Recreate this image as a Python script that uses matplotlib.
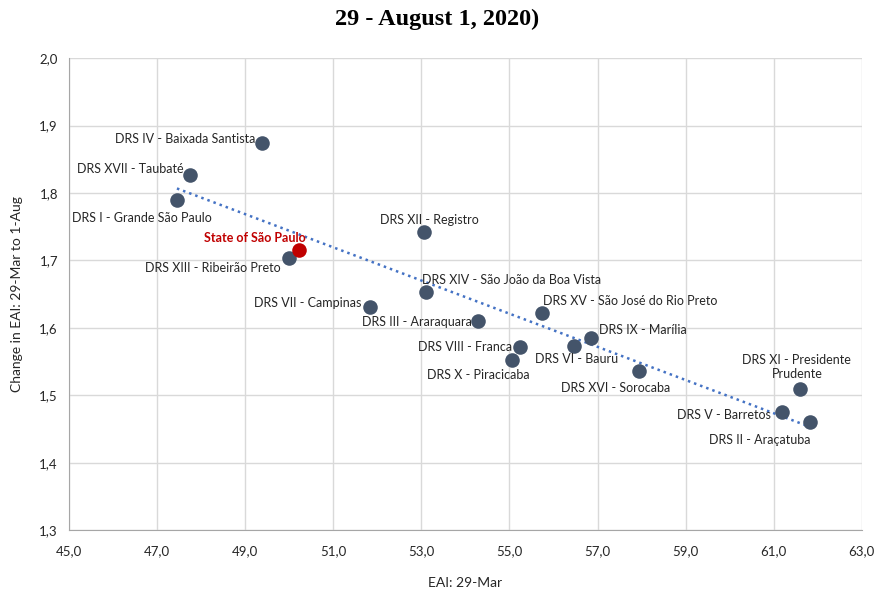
import numpy as np
import matplotlib.pyplot as plt

# EAI on 29-Mar vs. change in EAI to 1-Aug, by health region (DRS)
regions = [
    "DRS IV - Baixada Santista", "DRS XVII - Taubaté", "DRS I - Grande São Paulo",
    "DRS XIII - Ribeirão Preto", "DRS XII - Registro", "DRS XIV - São João da Boa Vista",
    "DRS VII - Campinas", "DRS III - Araraquara", "DRS XV - São José do Rio Preto",
    "DRS IX - Marília", "DRS VIII - Franca", "DRS VI - Bauru", "DRS X - Piracicaba",
    "DRS XVI - Sorocaba", "DRS XI - Presidente\nPrudente", "DRS V - Barretos",
    "DRS II - Araçatuba",
]
eai_mar = [49.38, 47.75, 47.45, 49.99, 53.06, 53.10, 51.83, 54.28, 55.74,
           56.85, 55.24, 56.46, 55.05, 57.94, 61.59, 61.18, 61.82]
eai_change = [1.874, 1.826, 1.789, 1.703, 1.742, 1.653, 1.631, 1.610, 1.622,
              1.585, 1.571, 1.573, 1.553, 1.536, 1.509, 1.475, 1.460]

state_name = "State of São Paulo"
state_x = 50.22
state_y = 1.715

# label placement: (dx, dy) in points, horizontal alignment
label_pos = [
    ((-5, 3), "right"), ((-5, 5), "right"), ((-25, -13), "center"),
    ((-6, -7), "right"), ((4, 9), "center"), ((-3, 9), "left"),
    ((-6, 3), "right"), ((-4, -1), "right"), ((1, 9), "left"),
    ((6, 6), "left"), ((-6, 0), "right"), ((2, -9), "center"),
    ((-24, -11), "center"), ((-17, -12), "center"), ((-2, 16), "center"),
    ((-8, -2), "right"), ((-36, -13), "center"),
]

plt.rcParams["font.family"] = ["Lato", "DejaVu Sans"]

fig = plt.figure(figsize=(8.74, 5.93), dpi=100)
ax = fig.add_axes([0.079, 0.106, 0.907, 0.796])

dot = "#44546A"
ax.scatter(eai_mar, eai_change, s=110, color=dot, zorder=3, linewidths=0)
ax.scatter([state_x], [state_y], s=110, color="#C00000", zorder=4, linewidths=0)

# linear trend over the regions
slope, icpt = np.polyfit(eai_mar, eai_change, 1)
tx = np.array([min(eai_mar), max(eai_mar)])
ax.plot(tx, slope * tx + icpt, linestyle=(0, (1, 1.6)), color="#4472C4",
        linewidth=1.8, zorder=2)

for name, x, y, (off, ha) in zip(regions, eai_mar, eai_change, label_pos):
    ax.annotate(name, (x, y), xytext=off, textcoords="offset points",
                ha=ha, va="center", fontsize=9, color="#262626",
                multialignment="center")
ax.annotate(state_name, (state_x, state_y), xytext=(5, 9), textcoords="offset points",
            ha="right", va="center", fontsize=9, color="#C00000", fontweight="bold")

ax.set_xlim(45, 63)
ax.set_ylim(1.3, 2.0)
xt = np.arange(45, 63.1, 2)
yt = np.arange(1.3, 2.01, 0.1)
ax.set_xticks(xt)
ax.set_yticks(yt)
ax.set_xticklabels([f"{v:.1f}".replace(".", ",") for v in xt])
ax.set_yticklabels([f"{v:.1f}".replace(".", ",") for v in yt])
ax.tick_params(axis="both", labelsize=9.5, colors="#262626", length=0, pad=8)
ax.tick_params(axis="x", pad=11)
ax.grid(True, color="#D9D9D9", linewidth=1)
ax.set_axisbelow(True)
for side in ["top", "right"]:
    ax.spines[side].set_visible(False)
for side in ["left", "bottom"]:
    ax.spines[side].set_color("#A6A6A6")

ax.set_xlabel("EAI: 29-Mar", fontsize=10, color="#262626", labelpad=14)
ax.set_ylabel("Change in EAI: 29-Mar to 1-Aug", fontsize=10, color="#262626", labelpad=12)

fig.text(0.5, 0.967, "29 - August 1, 2020)", ha="center", va="center",
         fontsize=17.5, fontweight="bold", family="Liberation Serif")

fig.savefig("out.png", dpi=100)
